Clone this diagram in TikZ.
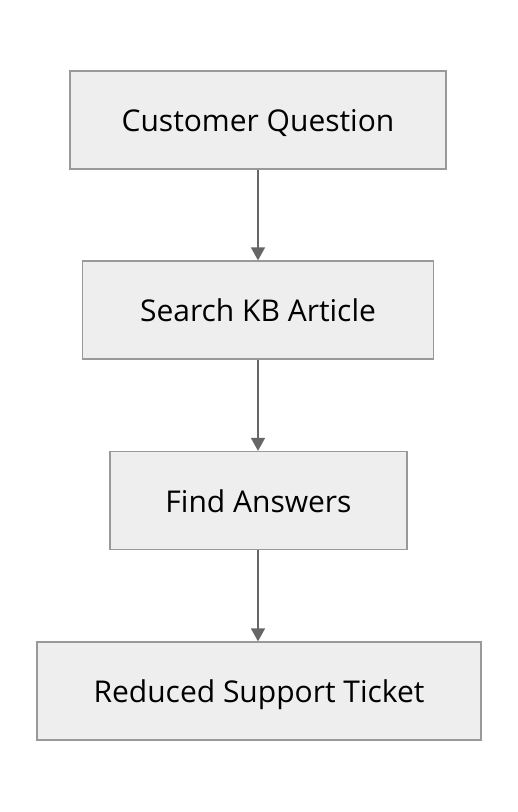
\documentclass[tikz,border=0pt]{standalone}
\usepackage{fontspec}
\setmainfont{Open Sans}
\usetikzlibrary{arrows.meta}
\definecolor{boxfill}{HTML}{EEEEEE}
\definecolor{boxline}{HTML}{999999}
\definecolor{arrowcol}{HTML}{666666}
\tikzset{
  flowbox/.style={draw=boxline, fill=boxfill, line width=1.3pt, minimum height=98pt, inner sep=0pt, text height=25pt, text depth=2pt, font=\fontsize{30}{35}\selectfont, text=black},
  flowarrow/.style={draw=arrowcol, line width=1.6pt, -{Triangle[width=14pt,length=13pt]}}
}
\begin{document}
\begin{tikzpicture}[x=1pt,y=-1pt]
\useasboundingbox (0,0) rectangle (518,812);
\node[flowbox, minimum width=376pt] (q) at (258,120) {Customer Question};
\node[flowbox, minimum width=351pt] (s) at (258,310) {Search KB Article};
\node[flowbox, minimum width=297pt] (f) at (258.5,500.5) {Find Answers};
\node[flowbox, minimum width=444pt] (r) at (259,691) {Reduced Support Ticket};
\draw[flowarrow] (q.south -| 258,0) -- (s.north -| 258,0);
\draw[flowarrow] (s.south -| 258,0) -- (f.north -| 258,0);
\draw[flowarrow] (f.south -| 258,0) -- (r.north -| 258,0);
\end{tikzpicture}
\end{document}
